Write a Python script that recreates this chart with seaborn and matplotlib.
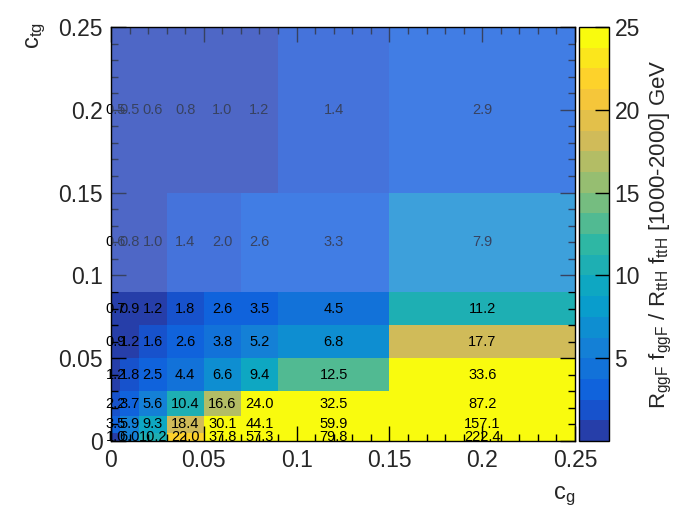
import numpy as np
import pandas as pd
import matplotlib
matplotlib.use("Agg")
import matplotlib.pyplot as plt
from matplotlib.colors import ListedColormap
from matplotlib.patches import Rectangle
import seaborn as sns

# bin edges (same binning in c_g and c_tg)
cg_edges = [0, 0.005, 0.015, 0.03, 0.05, 0.07, 0.09, 0.15, 0.25]
ctg_edges = [0, 0.005, 0.015, 0.03, 0.05, 0.07, 0.09, 0.15, 0.25]

# bin contents, one list per c_tg row (bottom -> top), columns follow cg_edges
row_0 = [1.0, 6.0, 10.2, 22.0, 37.8, 57.3, 79.8, 222.4]
row_1 = [3.5, 5.9, 9.3, 18.4, 30.1, 44.1, 59.9, 157.1]
row_2 = [2.2, 3.7, 5.6, 10.4, 16.6, 24.0, 32.5, 87.2]
row_3 = [1.2, 1.8, 2.5, 4.4, 6.6, 9.4, 12.5, 33.6]
row_4 = [0.9, 1.2, 1.6, 2.6, 3.8, 5.2, 6.8, 17.7]
row_5 = [0.7, 0.9, 1.2, 1.8, 2.6, 3.5, 4.5, 11.2]
row_6 = [0.6, 0.8, 1.0, 1.4, 2.0, 2.6, 3.3, 7.9]
row_7 = [0.5, 0.5, 0.6, 0.8, 1.0, 1.2, 1.4, 2.9]
rows = [row_0, row_1, row_2, row_3, row_4, row_5, row_6, row_7]

axis_ticks = [0, 0.05, 0.1, 0.15, 0.2, 0.25]
axis_ticklabels = ["0", "0.05", "0.1", "0.15", "0.2", "0.25"]
cbar_ticks = [5, 10, 15, 20, 25]
z_min, z_max, n_levels = 0, 25, 20
shade_from = 0.09   # c_tg above this is greyed out

step = 0.005  # finest grid that holds every edge


def bird(pos):
    stops = [0.0, 0.125, 0.25, 0.375, 0.5, 0.625, 0.75, 0.875, 1.0]
    red = [0.2082, 0.0592, 0.0780, 0.0232, 0.1802, 0.5301, 0.8186, 0.9956, 0.9764]
    green = [0.1664, 0.3599, 0.5041, 0.6419, 0.7178, 0.7492, 0.7328, 0.7862, 0.9832]
    blue = [0.5293, 0.8684, 0.8385, 0.7914, 0.6425, 0.4662, 0.3499, 0.1968, 0.0539]
    return (np.interp(pos, stops, red), np.interp(pos, stops, green), np.interp(pos, stops, blue))


cmap = ListedColormap([bird(min(1.0, (i + 0.99) / n_levels)) for i in range(n_levels)])
cmap.set_over(bird(1.0))

# expand the variable bins onto the fine grid
xw = np.round(np.diff(cg_edges) / step).astype(int)
yw = np.round(np.diff(ctg_edges) / step).astype(int)
grid = np.repeat(np.repeat(np.array(rows), yw, axis=0), xw, axis=1)
df = pd.DataFrame(grid)

sns.set_style("ticks")
plt.rcParams["font.family"] = ["Liberation Sans", "DejaVu Sans"]
plt.rcParams["mathtext.fontset"] = "custom"
plt.rcParams["mathtext.rm"] = "Liberation Sans"
plt.rcParams["mathtext.it"] = "Liberation Sans"

fig = plt.figure(figsize=(6.98, 5.25), dpi=100)
ax = fig.add_axes([111 / 698, 1 - 441 / 525, 464 / 698, 414 / 525])
cax = fig.add_axes([579 / 698, 1 - 441 / 525, 30 / 698, 414 / 525])

sns.heatmap(df, ax=ax, cbar_ax=cax, cmap=cmap, vmin=z_min, vmax=z_max,
            xticklabels=False, yticklabels=False, linewidths=0)
ax.invert_yaxis()
ax.set_xlim(0, len(df.columns))
ax.set_ylim(0, len(df.index))
ax.set_axisbelow(False)

# bin content labels at bin centres
for j, row in enumerate(rows):
    yc = (ctg_edges[j] + ctg_edges[j + 1]) / 2 / step
    for i, val in enumerate(row):
        xc = (cg_edges[i] + cg_edges[i + 1]) / 2 / step
        ax.text(xc, yc, f"{val:.1f}", ha="center", va="center", fontsize=10.5, color="black", zorder=3)

# translucent box over the upper region
y0 = shade_from / step
ax.add_patch(Rectangle((0, y0), len(df.columns), len(df.index) - y0,
                       facecolor=(0.55, 0.65, 0.95), alpha=0.4, edgecolor="none", zorder=4))

for s in ax.spines.values():
    s.set_visible(True)
    s.set_linewidth(1.0)
    s.set_color("black")
    s.set_zorder(6)

major = [t / step for t in axis_ticks]
minor = [t / step for t in np.arange(0, 0.2501, 0.01)]
ax.set_xticks(major)
ax.set_xticklabels(axis_ticklabels, fontsize=16.5)
ax.set_yticks(major)
ax.set_yticklabels(axis_ticklabels, fontsize=16.5, rotation=0)
ax.set_xticks(minor, minor=True)
ax.set_yticks(minor, minor=True)
ax.tick_params(which="both", direction="in", top=True, right=True, bottom=True, left=True, width=1.0, color="black")
ax.tick_params(which="major", length=11, pad=6)
ax.tick_params(which="minor", length=5)
ax.set_xlabel("")
ax.set_ylabel("")

fig.text(575 / 698, 1 - 496 / 525, r"c$_{\rm g}$", fontsize=17, ha="right", va="center")
fig.text(36 / 698, 1 - 22 / 525, r"c$_{\rm tg}$", fontsize=17, rotation=90, ha="center", va="top")

cb = ax.collections[0].colorbar
cb.set_ticks(cbar_ticks)
cb.ax.set_axisbelow(False)
cb.ax.tick_params(labelsize=16.5, direction="in", length=10, width=1.0, right=True, left=False, color="black", pad=4)
cb.outline.set_linewidth(1.0)
cb.outline.set_edgecolor("black")
cb.set_label(r"R$_{\rm ggF}$ f$_{\rm ggF}$ / R$_{\rm ttH}$ f$_{\rm ttH}$ [1000-2000] GeV", fontsize=16, labelpad=6)

fig.savefig("out.png", dpi=100)
